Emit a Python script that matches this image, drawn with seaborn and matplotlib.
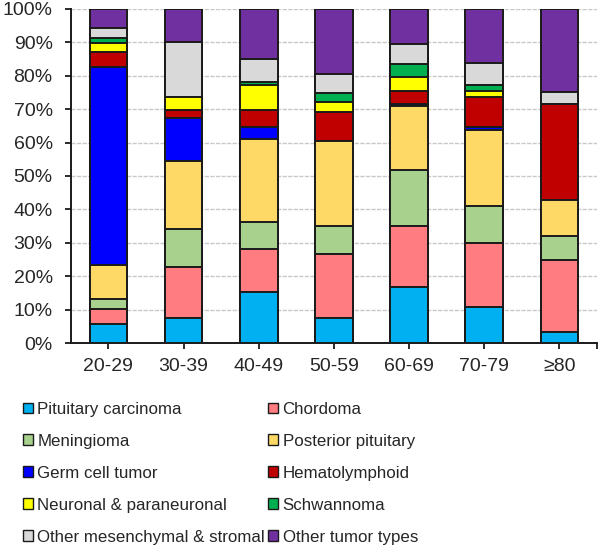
import numpy as np
import pandas as pd
import matplotlib
matplotlib.use("Agg")
import matplotlib.pyplot as plt
import seaborn as sns
from matplotlib.patches import Patch

# ====================== data ======================
age_groups = ["20-29", "30-39", "40-49", "50-59", "60-69", "70-79", "≥80"]
tumor_types = ["Pituitary carcinoma", "Chordoma", "Meningioma", "Posterior pituitary",
               "Germ cell tumor", "Hematolymphoid", "Neuronal & paraneuronal",
               "Schwannoma", "Other mesenchymal & stromal", "Other tumor types"]

pituitary_carcinoma = [5.7, 7.6, 15.2, 7.6, 16.7, 10.9, 3.4]
chordoma = [4.4, 15.2, 12.9, 19.0, 18.4, 19.1, 21.5]
meningioma = [3.1, 11.3, 8.2, 8.5, 16.7, 11.1, 7.1]
posterior_pituitary = [10.2, 20.3, 24.7, 25.5, 19.2, 22.5, 10.9]
germ_cell = [59.1, 12.9, 3.7, 0.0, 0.7, 1.1, 0.0]
hematolymphoid = [4.5, 2.5, 5.1, 8.6, 3.9, 9.0, 28.7]
neuronal = [2.7, 3.8, 7.4, 2.9, 4.0, 1.8, 0.0]
schwannoma = [1.5, 0.0, 1.0, 2.7, 4.0, 1.8, 0.0]
other_mesenchymal = [3.2, 16.5, 6.7, 5.6, 6.1, 6.6, 3.5]
other_types = [5.6, 9.9, 15.1, 19.6, 10.4, 16.1, 24.9]

colors = ["#00B0F0", "#FF7C80", "#A9D18E", "#FFD966", "#0000FF",
          "#C00000", "#FFFF00", "#00B050", "#D9D9D9", "#7030A0"]

series = [pituitary_carcinoma, chordoma, meningioma, posterior_pituitary, germ_cell,
          hematolymphoid, neuronal, schwannoma, other_mesenchymal, other_types]

df = pd.DataFrame(np.array(series).T, columns=tumor_types)
df.insert(0, "age", age_groups)
# normalise to 100% per age group
vals = df[tumor_types]
df[tumor_types] = vals.div(vals.sum(axis=1), axis=0) * 100
cum = df[tumor_types].cumsum(axis=1)

# ====================== plot ======================
sns.set_style("white")
plt.rcParams["font.family"] = ["Liberation Sans", "DejaVu Sans"]

fig = plt.figure(figsize=(6.0, 5.49), dpi=100)
ax = fig.add_axes([0.118, 0.375, 0.877, 0.609])

# stacked bars: draw cumulative totals from top layer down
for name, c in reversed(list(zip(tumor_types, colors))):
    sns.barplot(x=df["age"], y=cum[name], color=c, width=0.5,
                edgecolor="#1a1a1a", linewidth=1.4, saturation=1, ax=ax, zorder=3)

ax.set_ylim(0, 100)
ax.set_xlim(-0.5, 6.5)
ax.set_yticks(np.arange(0, 101, 10))
ax.set_yticklabels([f"{v}%" for v in range(0, 101, 10)], fontsize=14)
ax.set_xticks(range(len(age_groups)))
ax.set_xticklabels(age_groups, fontsize=14)
ax.set_xticks([6.5], minor=True)
ax.set_xlabel("")
ax.set_ylabel("")
ax.yaxis.grid(True, color="#C8C8C8", linestyle=(0, (3, 1)), linewidth=1.0, zorder=0)
ax.set_axisbelow(True)

for s in ["top", "right"]:
    ax.spines[s].set_visible(False)
ax.spines["left"].set_color("#1a1a1a")
ax.spines["bottom"].set_color("#1a1a1a")
ax.spines["left"].set_linewidth(1.4)
ax.spines["bottom"].set_linewidth(1.4)
ax.tick_params(axis="both", which="both", direction="out", length=4, width=1.3,
               color="#1a1a1a", left=True, bottom=True)
ax.tick_params(axis="y", pad=9)
ax.tick_params(axis="x", pad=7)

# legend laid out row-wise in 2 columns
handles = [Patch(facecolor=c, edgecolor="#1a1a1a", linewidth=1.0) for c in colors]
order = [0, 2, 4, 6, 8, 1, 3, 5, 7, 9]
fig.legend([handles[i] for i in order], [tumor_types[i] for i in order],
           loc="upper left", bbox_to_anchor=(0.038, 0.268), ncol=2, frameon=False,
           fontsize=12.2, handlelength=0.6, handleheight=0.6, handletextpad=0.25,
           columnspacing=0.2, labelspacing=1.0, borderaxespad=0, borderpad=0)

fig.savefig("out.png", dpi=100)
